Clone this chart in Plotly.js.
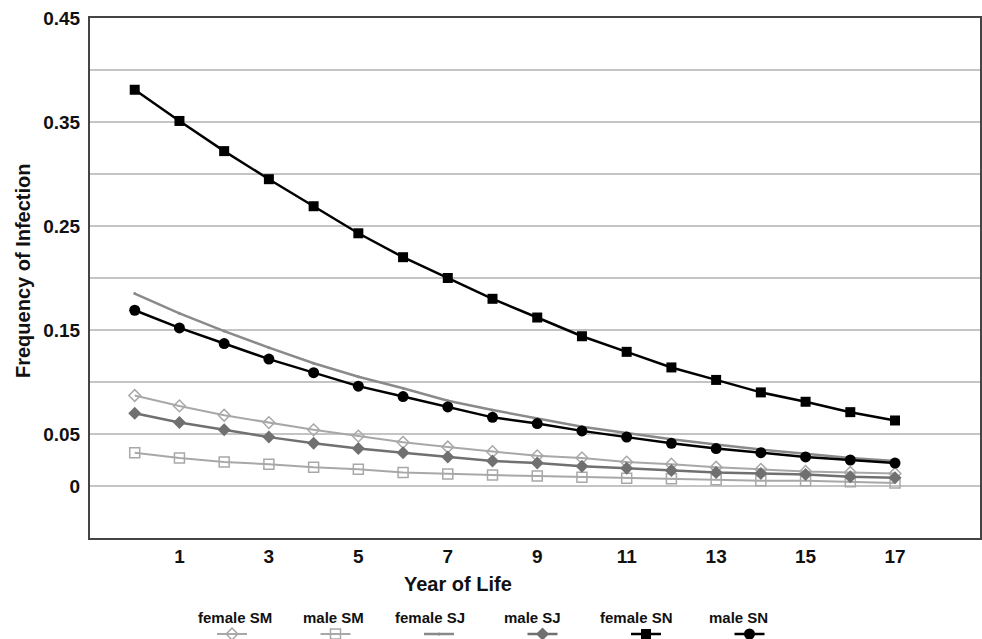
<!DOCTYPE html>
<html>
<head>
<meta charset="utf-8">
<script src="https://cdn.plot.ly/plotly-3.0.1.min.js"></script>
<style>html,body{margin:0;padding:0;background:#fff;}#chart{width:982px;height:639px;}</style>
</head>
<body>
<div id="chart"></div>
<script>
const years = [0,1,2,3,4,5,6,7,8,9,10,11,12,13,14,15,16,17];
const femaleSM = [0.087,0.077,0.068,0.061,0.054,0.048,0.042,0.0375,0.033,0.029,0.027,0.023,0.021,0.018,0.016,0.014,0.013,0.012];
const maleSM   = [0.032,0.027,0.023,0.021,0.018,0.016,0.013,0.0115,0.0105,0.0095,0.0085,0.0075,0.007,0.006,0.005,0.005,0.004,0.003];
const femaleSJ = [0.185,0.166,0.149,0.133,0.118,0.105,0.094,0.082,0.073,0.065,0.057,0.051,0.045,0.040,0.035,0.031,0.027,0.024];
const maleSJ   = [0.070,0.061,0.054,0.047,0.041,0.036,0.032,0.028,0.024,0.022,0.019,0.017,0.015,0.013,0.012,0.011,0.009,0.008];
const femaleSN = [0.381,0.351,0.322,0.295,0.269,0.243,0.220,0.200,0.180,0.162,0.144,0.129,0.114,0.102,0.090,0.081,0.071,0.063];
const maleSN   = [0.169,0.152,0.137,0.122,0.109,0.096,0.086,0.076,0.066,0.060,0.053,0.047,0.041,0.036,0.032,0.028,0.025,0.022];
const seriesNames = ['female SM','male SM','female SJ','male SJ','female SN','male SN'];
const xTickVals = [1,3,5,7,9,11,13,15,17];
const yTickVals = [0,0.05,0.1,0.15,0.2,0.25,0.3,0.35,0.4,0.45];
const yTickText = ['0','0.05','','0.15','','0.25','','0.35','','0.45'];

const FONT = 'Arial, "Liberation Sans", sans-serif';
const traces = [
  {y: femaleSM, line:{color:'#a8a8a8', width:2}, marker:{symbol:'diamond-open', size:9, color:'#a8a8a8', line:{width:1.5}}},
  {y: maleSM, line:{color:'#a8a8a8', width:2}, marker:{symbol:'square-open', size:10, color:'#a8a8a8', line:{width:1.5}}},
  {y: femaleSJ, line:{color:'#8a8a8a', width:2.5}, marker:{symbol:'circle', size:3, color:'#8a8a8a'}},
  {y: maleSJ, line:{color:'#707070', width:2.5}, marker:{symbol:'diamond', size:10, color:'#707070'}},
  {y: femaleSN, line:{color:'#000000', width:2.5}, marker:{symbol:'square', size:10, color:'#000000'}},
  {y: maleSN, line:{color:'#000000', width:2.5}, marker:{symbol:'circle', size:11, color:'#000000'}}
].map((t,i)=>Object.assign({x: years, type:'scatter', mode:'lines+markers', name:' ', legendrank:i+1}, t));

const W = 982, H = 639, ML = 90, MR = 2, MT = 18, MB = 101;
const PW = W-ML-MR, PH = H-MT-MB;
const px = v => (v-ML)/PW;
const py = v => (H-MB-v)/PH;
const labelX = [235,333,430,532,636,738];
const annotations = seriesNames.map((n,i)=>({
  text:n, xref:'paper', yref:'paper', x:px(labelX[i]), y:py(617), showarrow:false,
  xanchor:'center', yanchor:'middle', font:{family:FONT, size:15, color:'#111', weight:'bold'}
}));
annotations.push({text:'Year of Life', xref:'paper', yref:'paper', x:px(458), y:py(584), showarrow:false,
  xanchor:'center', yanchor:'middle', font:{family:FONT, size:20, color:'#111', weight:'bold'}});
annotations.push({text:'Frequency of Infection', xref:'paper', yref:'paper', x:px(23), y:py(271), showarrow:false,
  textangle:-90, xanchor:'center', yanchor:'middle', font:{family:FONT, size:20, color:'#111', weight:'bold'}});

const layout = {
  width:W, height:H,
  margin:{l:ML, r:MR, t:MT, b:MB, autoexpand:false},
  paper_bgcolor:'#fff', plot_bgcolor:'#fff',
  showlegend:true,
  legend:{orientation:'h', x:px(212), y:py(634), xanchor:'left', yanchor:'middle',
    entrywidth:58.5, entrywidthmode:'pixels', traceorder:'normal',
    font:{family:FONT, size:12}, bgcolor:'rgba(0,0,0,0)'},
  xaxis:{range:[-1,18.9], tickvals:xTickVals, showgrid:false, zeroline:false,
    showline:true, mirror:true, linecolor:'#444', linewidth:2, ticks:'',
    tickfont:{family:FONT, size:19, color:'#111', weight:'bold'}},
  yaxis:{range:[-0.05,0.45], tickvals:yTickVals, ticktext:yTickText, showgrid:true,
    gridcolor:'#c4c4c4', gridwidth:1.3, zeroline:false, showline:true, mirror:true,
    linecolor:'#444', linewidth:2, ticks:'', ticklabelstandoff:4,
    tickfont:{family:FONT, size:19, color:'#111', weight:'bold'}},
  annotations:annotations
};
Plotly.newPlot('chart', traces, layout, {staticPlot:true, displayModeBar:false});
</script>
</body>
</html>
